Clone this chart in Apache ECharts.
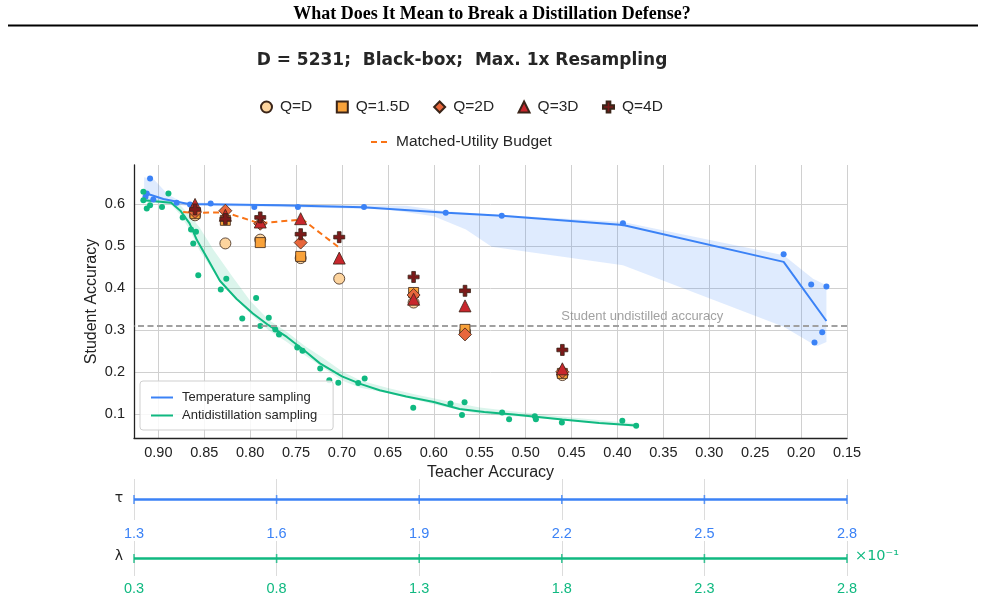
<!DOCTYPE html>
<html><head><meta charset="utf-8">
<script src="https://cdn.jsdelivr.net/npm/echarts@6/dist/echarts.min.js"></script>
<style>html,body{margin:0;padding:0;background:#fff}#c{width:985px;height:601px}</style>
</head><body><div id="c"></div><script>
// ---------- DATA ----------
const xTicks = [0.90,0.85,0.80,0.75,0.70,0.65,0.60,0.55,0.50,0.45,0.40,0.35,0.30,0.25,0.20,0.15];
const yTicks = [0.1,0.2,0.3,0.4,0.5,0.6];
const tauTicks = [1.3,1.6,1.9,2.2,2.5,2.8];
const lambdaTicks = [0.3,0.8,1.3,1.8,2.3,2.8];
const undistilledAcc = 0.31;
const undistilledLabelX = 0.373;

// Q budget markers (teacher accuracy columns)
const qCols = [0.860,0.827,0.789,0.745,0.703,0.622,0.566,0.460];
const qD    = [0.574,0.507,0.516,0.472,0.423,0.366,0.297,0.193];
const q15D  = [0.578,0.562,0.509,0.476,null,0.390,0.302,0.197];
const q2D   = [0.582,0.585,0.554,0.509,null,0.384,0.290,0.201];
const q3D   = [0.600,0.574,0.558,0.566,0.472,0.374,0.358,0.208];
const q4D   = [0.588,0.565,0.569,0.529,0.522,0.427,0.394,0.253];

// Matched-utility budget
const budgetX = [0.873,0.860,0.827,0.790,0.743,0.703];
const budgetY = [0.582,0.580,0.581,0.555,0.564,0.497];

// Temperature sampling points
const tempX = [0.909,0.914,0.9126,0.9055,0.880,0.8655,0.843,0.7955,0.748,0.676,0.587,0.526,0.394,0.219,0.189,0.1724,0.177,0.1854];
const tempY = [0.662,0.618,0.626,0.612,0.604,0.600,0.602,0.594,0.594,0.594,0.580,0.573,0.555,0.481,0.409,0.404,0.295,0.271];
const tempLineX = [0.9155,0.8945,0.8673,0.7675,0.677,0.586,0.526,0.394,0.219,0.1724];
const tempLineY = [0.628,0.613,0.601,0.598,0.593,0.580,0.573,0.551,0.463,0.322];
const tempUpX = [0.9155,0.905,0.89,0.875,0.80,0.70,0.63,0.587,0.526,0.394,0.219,0.187,0.1724];
const tempUpY = [0.665,0.660,0.625,0.606,0.601,0.598,0.597,0.584,0.575,0.558,0.479,0.423,0.407];
const tempLoX = [0.9155,0.90,0.87,0.80,0.70,0.65,0.60,0.565,0.537,0.394,0.219,0.183,0.1724];
const tempLoY = [0.612,0.604,0.597,0.595,0.591,0.588,0.572,0.540,0.499,0.455,0.308,0.262,0.272];

// Antidistillation sampling points
const antiX = [0.9163,0.9163,0.9126,0.909,0.896,0.889,0.8735,0.8644,0.859,0.862,0.8565,0.826,0.832,0.7935,0.8086,0.7797,0.789,0.7726,0.7686,0.7487,0.743,0.7237,0.7138,0.704,0.6823,0.6753,0.6224,0.5818,0.5665,0.5693,0.5256,0.518,0.490,0.4888,0.4605,0.3947,0.3796];
const antiY = [0.630,0.610,0.590,0.598,0.594,0.626,0.569,0.540,0.535,0.507,0.431,0.423,0.397,0.377,0.328,0.330,0.310,0.302,0.290,0.259,0.251,0.209,0.181,0.175,0.174,0.185,0.115,0.125,0.128,0.098,0.104,0.088,0.095,0.088,0.080,0.084,0.072];
const antiLineX = [0.916,0.886,0.876,0.866,0.858,0.845,0.833,0.815,0.797,0.78,0.76,0.74,0.724,0.70,0.68,0.659,0.63,0.60,0.572,0.545,0.513,0.46,0.42,0.38];
const antiLineY = [0.610,0.604,0.585,0.555,0.515,0.465,0.418,0.375,0.340,0.312,0.284,0.250,0.221,0.190,0.172,0.157,0.142,0.129,0.112,0.105,0.099,0.087,0.079,0.073];
const antiBandX = [0.916,0.886,0.876,0.866,0.855,0.84,0.82,0.80,0.78,0.76,0.74,0.72,0.70,0.68,0.65,0.62,0.59,0.55,0.50,0.45,0.40,0.38];
const antiUpY = [0.614,0.610,0.598,0.575,0.545,0.492,0.430,0.370,0.325,0.296,0.262,0.233,0.202,0.180,0.162,0.147,0.133,0.116,0.103,0.092,0.082,0.078];
const antiLoY = [0.606,0.600,0.575,0.540,0.490,0.440,0.385,0.340,0.300,0.272,0.240,0.210,0.180,0.163,0.150,0.134,0.118,0.100,0.093,0.083,0.074,0.069];

// ---------- STYLE ----------
const blue = '#3b82f6', green = '#10b981', orange = '#f97316';
const qColors = ['#fdd49e','#f9a23a','#e8673c','#c8272d','#7b1a1a'];
const sans = 'Liberation Sans';
const zip = (xs, ys) => xs.map((x, i) => [x, ys[i]]);
const qData = ys => qCols.map((x, i) => ys[i] == null ? null : [x, ys[i]]).filter(Boolean);
const plusPath = 'path://M-1,-3L1,-3L1,-1L3,-1L3,1L1,1L1,3L-1,3L-1,1L-3,1L-3,-1L-1,-1Z';

function band(upX, upY, loX, loY, fill) {
  const up = zip(upX, upY), lo = zip(loX, loY);
  return {
    type: 'custom', xAxisIndex: 0, yAxisIndex: 0, silent: true, z: 1,
    data: [up[0]],
    renderItem: (params, api) => {
      const pts = up.concat(lo.slice().reverse()).map(p => api.coord(p));
      return { type: 'polygon', shape: { points: pts }, style: { fill: fill } };
    }
  };
}
function qSeries(name, ys, symbol, size, color) {
  return {
    name, type: 'scatter', xAxisIndex: 0, yAxisIndex: 0, z: 5,
    symbol, symbolSize: size, data: qData(ys),
    itemStyle: { color, borderColor: '#3a2418', borderWidth: 0.8, opacity: 1 }
  };
}
function strip(idx, ticks, color) {
  return [
    { type: 'line', xAxisIndex: idx, yAxisIndex: idx, data: [[ticks[0], 0.5], [ticks[ticks.length - 1], 0.5]],
      symbol: 'none', lineStyle: { color, width: 2.5 }, silent: true },
    { type: 'scatter', xAxisIndex: idx, yAxisIndex: idx, data: ticks.map(t => [t, 0.5]),
      symbol: 'rect', symbolSize: [1.6, 9], itemStyle: { color }, silent: true }
  ];
}

const chart = echarts.init(document.getElementById('c'), null, { renderer: 'canvas' });
const option = {
  animation: false,
  backgroundColor: '#fff',
  textStyle: { fontFamily: sans },
  grid: [
    { left: 134, top: 165, width: 713, height: 273 },
    { left: 134, top: 479, width: 713, height: 41 },
    { left: 134, top: 541, width: 713, height: 35 }
  ],
  xAxis: [
    { gridIndex: 0, type: 'value', inverse: true, min: 0.15, max: 0.9265,
      axisLine: { show: true, onZero: false, lineStyle: { color: '#222', width: 1.3 } },
      axisTick: { show: false, customValues: xTicks },
      axisLabel: { customValues: xTicks, formatter: v => v.toFixed(2), fontSize: 14.5, color: '#222', margin: 7 },
      splitLine: { show: true, lineStyle: { color: '#d0d0d0', width: 1 } },
      name: 'Teacher Accuracy', nameLocation: 'middle', nameGap: 27,
      nameTextStyle: { fontSize: 16, color: '#222' } },
    { gridIndex: 1, type: 'value', min: tauTicks[0], max: tauTicks[tauTicks.length - 1],
      axisLine: { show: false }, axisTick: { show: false, customValues: tauTicks },
      axisLabel: { customValues: tauTicks, formatter: v => v.toFixed(1), fontSize: 14.5, color: blue, margin: 6 },
      splitLine: { show: true, lineStyle: { color: '#dcdcdc', width: 1 } } },
    { gridIndex: 2, type: 'value', min: lambdaTicks[0], max: lambdaTicks[lambdaTicks.length - 1],
      axisLine: { show: false }, axisTick: { show: false, customValues: lambdaTicks },
      axisLabel: { customValues: lambdaTicks, formatter: v => v.toFixed(1), fontSize: 14.5, color: green, margin: 5 },
      splitLine: { show: true, lineStyle: { color: '#dcdcdc', width: 1 } } }
  ],
  yAxis: [
    { gridIndex: 0, type: 'value', min: 0.043, max: 0.694,
      axisLine: { show: true, onZero: false, lineStyle: { color: '#222', width: 1.3 } },
      axisTick: { show: false, customValues: yTicks },
      axisLabel: { customValues: yTicks, formatter: v => v.toFixed(1), fontSize: 14.5, color: '#222', margin: 9 },
      splitLine: { show: true, lineStyle: { color: '#d0d0d0', width: 1 } },
      name: 'Student Accuracy', nameLocation: 'middle', nameGap: 34, nameMoveOverlap: false,
      nameTextStyle: { fontSize: 16, color: '#222' } },
    { gridIndex: 1, type: 'value', min: 0, max: 1, show: false },
    { gridIndex: 2, type: 'value', min: 0, max: 1, show: false }
  ],
  legend: [
    { data: ['Q=D','Q=1.5D','Q=2D','Q=3D','Q=4D'], left: 255, top: 94, itemWidth: 11, itemHeight: 11,
      itemGap: 23.5, textStyle: { fontSize: 15.5, color: '#262626', fontFamily: sans, padding: [0, 0, 0, 3] },
      selectedMode: false },
    { data: ['Matched-Utility Budget'], left: 365, top: 129, itemWidth: 17, itemHeight: 12,
      itemStyle: { opacity: 0 },
      textStyle: { fontSize: 15.5, color: '#262626', fontFamily: sans, padding: [0, 0, 0, 3] }, selectedMode: false },
    { data: ['Temperature sampling','Antidistillation sampling'], orient: 'vertical', left: 140, top: 381,
      itemWidth: 22, itemHeight: 13, itemGap: 5, padding: [10, 16, 8, 10],
      itemStyle: { opacity: 0 },
      backgroundColor: 'rgba(255,255,255,0.85)', borderColor: '#cfcfcf', borderWidth: 1, borderRadius: 3,
      textStyle: { fontSize: 13, color: '#262626', fontFamily: sans, padding: [0, 0, 0, 4] }, selectedMode: false }
  ],
  graphic: [
    { type: 'text', style: { text: 'What Does It Mean to Break a Distillation Defense?', x: 492, y: 14,
      textAlign: 'center', textVerticalAlign: 'middle', font: 'bold 18px "Liberation Serif"', fill: '#000' } },
    { type: 'line', shape: { x1: 8, y1: 25.5, x2: 978, y2: 25.5 }, style: { stroke: '#000', lineWidth: 2 } },
    { type: 'text', style: { text: 'D = 5231;  Black-box;  Max. 1x Resampling', x: 462, y: 61,
      textAlign: 'center', textVerticalAlign: 'middle', font: 'bold 17px "DejaVu Sans"', fill: '#262626' } },
    { type: 'text', style: { text: 'τ', x: 119, y: 498, textAlign: 'center', textVerticalAlign: 'middle',
      font: '14px "DejaVu Sans"', fill: '#222' } },
    { type: 'text', style: { text: 'λ', x: 119, y: 556, textAlign: 'center', textVerticalAlign: 'middle',
      font: '14px "DejaVu Sans"', fill: '#222' } },
    { type: 'text', style: { text: '×10⁻¹', x: 855, y: 556, textAlign: 'left', textVerticalAlign: 'middle',
      font: '14.5px "DejaVu Sans"', fill: green } }
  ],
  series: [
    band(tempUpX, tempUpY, tempLoX, tempLoY, 'rgba(59,130,246,0.16)'),
    band(antiBandX, antiUpY, antiBandX, antiLoY, 'rgba(16,185,129,0.15)'),
    { name: 'undistilled', type: 'scatter', xAxisIndex: 0, yAxisIndex: 0, z: 2,
      data: [[undistilledLabelX, undistilledAcc]], symbolSize: 1, itemStyle: { color: 'rgba(0,0,0,0)' },
      label: { show: true, position: 'top', distance: 3, formatter: 'Student undistilled accuracy',
        fontSize: 13, color: '#8a8a8a', fontFamily: sans },
      markLine: { silent: true, symbol: 'none', label: { show: false },
        lineStyle: { color: '#a0a0a0', type: [6, 3.5], width: 1.8 },
        data: [{ yAxis: undistilledAcc }] } },
    { name: 'Temperature sampling', type: 'line', xAxisIndex: 0, yAxisIndex: 0, z: 3,
      data: zip(tempLineX, tempLineY), symbol: 'none', lineStyle: { color: blue, width: 2 }, itemStyle: { color: blue } },
    { name: 'Antidistillation sampling', type: 'line', xAxisIndex: 0, yAxisIndex: 0, z: 3,
      data: zip(antiLineX, antiLineY), symbol: 'none', lineStyle: { color: green, width: 2 }, itemStyle: { color: green } },
    { name: 'temp-pts', type: 'scatter', xAxisIndex: 0, yAxisIndex: 0, z: 3,
      data: zip(tempX, tempY), symbolSize: 6, itemStyle: { color: blue, opacity: 1 } },
    { name: 'anti-pts', type: 'scatter', xAxisIndex: 0, yAxisIndex: 0, z: 3,
      data: zip(antiX, antiY), symbolSize: 6, itemStyle: { color: green, opacity: 1 } },
    { name: 'Matched-Utility Budget', type: 'line', xAxisIndex: 0, yAxisIndex: 0, z: 4,
      data: zip(budgetX, budgetY), symbol: 'none', lineStyle: { color: orange, width: 2, type: [6, 4] },
      itemStyle: { color: orange } },
    qSeries('Q=D', qD, 'circle', 11, qColors[0]),
    qSeries('Q=1.5D', q15D, 'rect', 10, qColors[1]),
    qSeries('Q=2D', q2D, 'diamond', 13, qColors[2]),
    qSeries('Q=3D', q3D, 'triangle', 12, qColors[3]),
    qSeries('Q=4D', q4D, plusPath, 11, qColors[4]),
    ...strip(1, tauTicks, blue),
    ...strip(2, lambdaTicks, green)
  ]
};
chart.setOption(option);
</script></body></html>
